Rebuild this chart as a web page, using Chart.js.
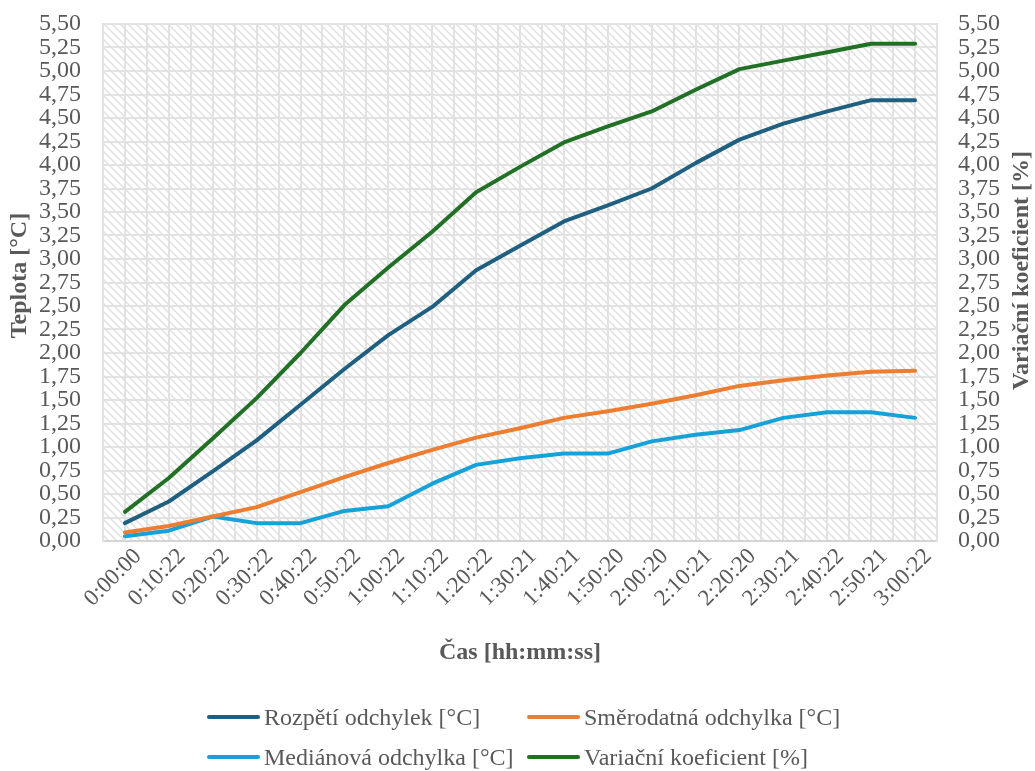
<!DOCTYPE html>
<html>
<head>
<meta charset="utf-8">
<script src="https://cdn.jsdelivr.net/npm/chart.js@4/dist/chart.umd.min.js"></script>
<style>
  html, body { margin: 0; padding: 0; background: #ffffff; }
  #wrap { position: relative; width: 1035px; height: 771px; }
  #c { position: absolute; left: 0; top: 0; }
  .lg { position: absolute; font-family: "Liberation Serif", "Times New Roman", serif; font-size: 24px; color: #595959; white-space: nowrap; line-height: 26px; }
  .lg span.ln { display: inline-block; width: 53px; height: 4px; vertical-align: middle; margin-right: 4px; position: relative; top: -2px; border-radius: 2px; }
</style>
</head>
<body>
<div id="wrap">
  <canvas id="c" width="1035" height="771"></canvas>
  <div id="legend"></div>
</div>
<script>
const categories = ["0:00:00","0:10:22","0:20:22","0:30:22","0:40:22","0:50:22","1:00:22","1:10:22","1:20:22","1:30:21","1:40:21","1:50:20","2:00:20","2:10:21","2:20:20","2:30:21","2:40:22","2:50:21","3:00:22"];
const rozpeti = [0.19, 0.42, 0.74, 1.07, 1.45, 1.83, 2.19, 2.49, 2.88, 3.14, 3.40, 3.57, 3.75, 4.02, 4.27, 4.44, 4.57, 4.69, 4.69];
const smerodatna = [0.09, 0.16, 0.26, 0.36, 0.52, 0.68, 0.83, 0.97, 1.10, 1.20, 1.31, 1.38, 1.46, 1.55, 1.65, 1.71, 1.76, 1.80, 1.81];
const medianova = [0.05, 0.11, 0.26, 0.19, 0.19, 0.32, 0.37, 0.61, 0.81, 0.88, 0.93, 0.93, 1.06, 1.13, 1.18, 1.31, 1.37, 1.37, 1.31];
const variacni = [0.31, 0.67, 1.09, 1.52, 2.00, 2.51, 2.91, 3.29, 3.71, 3.98, 4.24, 4.41, 4.57, 4.80, 5.02, 5.11, 5.20, 5.29, 5.29];
const seriesNames = ["Rozpětí odchylek [°C]", "Směrodatná odchylka [°C]", "Mediánová odchylka [°C]", "Variační koeficient [%]"];
const seriesColors = ["#1F5F80", "#ED7D31", "#17A1D9", "#217025"];
const axisTitles = { x: "Čas [hh:mm:ss]", y: "Teplota [°C]", y1: "Variační koeficient [%]" };
const yMin = 0, yMax = 5.5, yStep = 0.25;

const FONT = '"Liberation Serif", "Times New Roman", serif';
const TXT = '#595959';
const GRID = '#e2e2e2';

function makePattern(ctx) {
  const p = document.createElement('canvas');
  p.width = 8; p.height = 8;
  const g = p.getContext('2d');
  g.fillStyle = '#ffffff';
  g.fillRect(0, 0, 8, 8);
  g.strokeStyle = '#e0e0e0';
  g.lineWidth = 1.5;
  g.beginPath();
  g.moveTo(-2, -2); g.lineTo(10, 10);
  g.moveTo(-10, -2); g.lineTo(2, 10);
  g.moveTo(6, -2); g.lineTo(18, 10);
  g.stroke();
  return ctx.createPattern(p, 'repeat');
}

function drawVTitle(ctx, text, x, y) {
  ctx.save();
  ctx.font = 'bold 24px ' + FONT;
  ctx.fillStyle = TXT;
  ctx.textAlign = 'center';
  ctx.textBaseline = 'middle';
  ctx.translate(x, y);
  ctx.rotate(-Math.PI / 2);
  ctx.fillText(text, 0, 0);
  ctx.restore();
}

const bgPlugin = {
  id: 'bgPattern',
  beforeDraw(chart) {
    const { ctx, chartArea: a } = chart;
    ctx.save();
    ctx.fillStyle = makePattern(ctx);
    ctx.fillRect(a.left, a.top, a.right - a.left, a.bottom - a.top);
    ctx.restore();
  },
  afterDraw(chart) {
    const { ctx, chartArea: a } = chart;
    const mid = (a.top + a.bottom) / 2;
    drawVTitle(ctx, axisTitles.y, 20, mid - 7);
    drawVTitle(ctx, axisTitles.y1, 1022, mid - 12);
  }
};

const fmt = v => Number(v).toFixed(2).replace('.', ',');
const data = [rozpeti, smerodatna, medianova, variacni];
const datasets = data.map((d, i) => ({
  label: seriesNames[i],
  data: d,
  borderColor: seriesColors[i],
  backgroundColor: seriesColors[i],
  borderWidth: 4,
  pointRadius: 0,
  tension: 0,
  borderCapStyle: 'round',
  borderJoinStyle: 'round',
  yAxisID: i === 3 ? 'y1' : 'y',
  xAxisID: 'x'
}));

function yTicks(pad) {
  return { color: TXT, font: { family: FONT, size: 24, lineHeight: 1.0 },
    stepSize: yStep, autoSkip: false, padding: pad, callback: fmt };
}
function fixV(w) {
  return s => { s.width = w; s.paddingTop = 0; s.paddingBottom = 0; };
}
function fixH(h) {
  return s => { s.height = h; s.paddingLeft = 0; s.paddingRight = 0; };
}

new Chart(document.getElementById('c'), {
  type: 'line',
  data: { labels: categories, datasets },
  options: {
    responsive: false,
    animation: false,
    layout: { padding: { left: 0, right: 0, top: 0, bottom: 104 } },
    plugins: { legend: { display: false }, tooltip: { enabled: false } },
    scales: {
      x: {
        type: 'category', position: 'bottom', offset: true,
        afterFit: fixH(126),
        grid: { display: true, offset: false, color: GRID, lineWidth: 2, drawTicks: false },
        border: { display: true, color: '#d4d4d4', width: 2 },
        ticks: { color: TXT, font: { family: FONT, size: 23 }, minRotation: 45, maxRotation: 45, autoSkip: false, padding: 2, labelOffset: 13 },
        title: { display: true, text: axisTitles.x, color: TXT, font: { family: FONT, size: 24, weight: 'bold' }, padding: { top: 0, bottom: 0 } }
      },
      xg: {
        type: 'linear', position: 'top', min: 0, max: categories.length,
        afterFit: fixH(24),
        grid: { display: true, color: GRID, lineWidth: 2, drawTicks: false },
        border: { display: true, color: GRID, width: 2 },
        ticks: { display: false, stepSize: 1 }
      },
      y: {
        type: 'linear', position: 'left', min: yMin, max: yMax,
        afterFit: fixV(103),
        grid: { color: GRID, lineWidth: 2, drawTicks: false },
        border: { display: true, color: GRID, width: 2 },
        ticks: yTicks(22),
        title: { display: false }
      },
      y1: {
        type: 'linear', position: 'right', min: yMin, max: yMax,
        afterFit: fixV(98),
        grid: { display: false, drawTicks: false },
        border: { display: true, color: GRID, width: 2 },
        ticks: yTicks(21),
        title: { display: false }
      }
    }
  },
  plugins: [bgPlugin]
});

// HTML legend built from the series arrays
const legendPos = [
  { left: 207, top: 704 }, { left: 527, top: 704 },
  { left: 207, top: 744 }, { left: 527, top: 744 }
];
const lg = document.getElementById('legend');
seriesNames.forEach((n, i) => {
  const d = document.createElement('div');
  d.className = 'lg';
  d.style.left = legendPos[i].left + 'px';
  d.style.top = legendPos[i].top + 'px';
  const ln = document.createElement('span');
  ln.className = 'ln';
  ln.style.background = seriesColors[i];
  d.appendChild(ln);
  d.appendChild(document.createTextNode(n));
  lg.appendChild(d);
});
</script>
</body>
</html>
